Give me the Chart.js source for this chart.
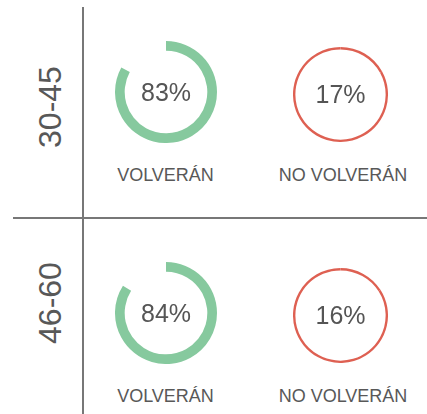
<!DOCTYPE html>
<html>
<head>
<meta charset="utf-8">
<script src="https://cdn.jsdelivr.net/npm/chart.js@4"></script>
<style>
  body { margin: 0; background: #fff; }
  #wrap { position: relative; width: 427px; height: 414px; overflow: hidden; font-family: "Liberation Sans", Arial, sans-serif; color: #585858; }
  canvas { position: absolute; }
  .vline { position: absolute; left: 82px; top: 7px; width: 1.5px; height: 407px; background: #777; }
  .hline { position: absolute; left: 13px; top: 217px; width: 414px; height: 1.5px; background: #777; }
  .group { position: absolute; font-size: 32px; width: 120px; line-height: 36px; text-align: center; transform: translate(-50%, -50%) rotate(-90deg); }
  .lbl { position: absolute; font-size: 18px; width: 170px; text-align: center; transform: translateX(-50%); }
</style>
</head>
<body>
<div id="wrap">
  <div class="vline"></div>
  <div class="hline"></div>
</div>
<script>
const groups = ['30-45', '46-60'];
const volveran = [83, 84];
const noVolveran = [17, 16];
const answers = ['VOLVERÁN', 'NO VOLVERÁN'];

const green = 'rgb(134, 201, 158)';
const red = 'rgb(222, 96, 82)';

const wrap = document.getElementById('wrap');

// texto del centro
const centerText = {
  id: 'centerText',
  afterDraw(chart) {
    const arc = chart.getDatasetMeta(0).data[0];
    const ctx = chart.ctx;
    ctx.save();
    ctx.font = '25px "Liberation Sans", Arial, sans-serif';
    ctx.fillStyle = '#555';
    ctx.textAlign = 'center';
    ctx.textBaseline = 'middle';
    ctx.fillText(chart.options.plugins.centerText.text, arc.x, arc.y + 2);
    ctx.restore();
  }
};

function addCanvas(cx, cy, r) {
  const c = document.createElement('canvas');
  c.width = r * 2;
  c.height = r * 2;
  c.style.left = (cx - r) + 'px';
  c.style.top = (cy - r) + 'px';
  wrap.appendChild(c);
  return c;
}

function addDiv(cls, text, x, y) {
  const d = document.createElement('div');
  d.className = cls;
  d.textContent = text;
  d.style.left = x + 'px';
  d.style.top = y + 'px';
  wrap.appendChild(d);
}

function ring(canvas, values, colors, cutout, text) {
  new Chart(canvas, {
    type: 'doughnut',
    data: {
      labels: answers,
      datasets: [{
        data: values,
        backgroundColor: colors,
        borderWidth: 0,
      }],
    },
    options: {
      responsive: false,
      animation: false,
      cutout: cutout,
      layout: { padding: 0 },
      plugins: {
        legend: { display: false },
        tooltip: { enabled: false },
        centerText: { text: text },
      },
    },
    plugins: [centerText],
  });
}

const rowY = [91.5, 312.5];
const groupY = [107, 303];
for (let i = 0; i < groups.length; i++) {
  const y = rowY[i];
  addDiv('group', groups[i], 50, groupY[i]);

  ring(addCanvas(165.5, y, 51), [volveran[i], noVolveran[i]], [green, 'rgba(0,0,0,0)'], '81%', volveran[i] + '%');
  ring(addCanvas(340.5, y + 2.5, 47.5), [noVolveran[i], volveran[i]], [red, red], '95%', noVolveran[i] + '%');

  addDiv('lbl', answers[0], 165.5, y + 73);
  addDiv('lbl', answers[1], 343, y + 73);
}
</script>
</body>
</html>
